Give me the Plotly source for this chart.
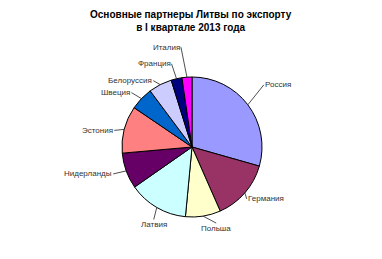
import math
import plotly.graph_objects as go

countries = ["Россия", "Германия", "Польша", "Латвия", "Нидерланды", "Эстония",
             "Швеция", "Белоруссия", "Франция", "Италия"]
shares = [29.4, 14.0, 8.1, 13.8, 8.3, 10.9, 5.3, 5.4, 2.5, 2.3]
colors = ["#9999FF", "#993366", "#FFFFCC", "#CCFFFF", "#660066", "#FF8080",
          "#0066CC", "#CCCCFF", "#000080", "#FF00FF"]
title_text = "<b>Основные партнеры Литвы по экспорту<br>в I квартале 2013 года</b>"

# label layout: pixel offset of each label from its slice edge, and anchors
label_offsets = [(16, -20), (2, 6), (13, 7), (-3, 12), (-13, 3), (-10, 1),
                 (-10, -6), (-7, -4), (-5, -15), (-6, -30)]
label_anchors = [("left", "middle"), ("left", "middle"), ("center", "top"),
                 ("center", "top"), ("right", "middle"), ("right", "middle"),
                 ("right", "middle"), ("right", "middle"), ("right", "middle"),
                 ("right", "middle")]

W, H = 382, 259
cx, cy, r = 192, 147, 70

fig = go.Figure(go.Pie(
    labels=countries, values=shares, sort=False, direction="clockwise", rotation=0,
    marker=dict(colors=colors, line=dict(color="black", width=1)),
    textinfo="none",
    domain=dict(x=[(cx - r) / W, (cx + r) / W], y=[1 - (cy + r) / H, 1 - (cy - r) / H]),
    showlegend=False, hoverinfo="label+percent",
))

total = sum(shares)
acc = 0.0
for name, v, (ax, ay), (xa, ya) in zip(countries, shares, label_offsets, label_anchors):
    mid = (acc + v / 2) / total * 2 * math.pi
    acc += v
    px, py = cx + r * math.sin(mid), cy - r * math.cos(mid)
    fig.add_annotation(
        x=px / W, y=1 - py / H, xref="paper", yref="paper",
        ax=ax, ay=ay, text=name, showarrow=True, arrowhead=0,
        arrowwidth=0.8, arrowcolor="#222", standoff=0, startstandoff=0,
        xanchor=xa, yanchor=ya, borderpad=0,
        font=dict(family="Arial, Liberation Sans", size=8, color="#333"),
    )

fig.add_annotation(
    text=title_text, xref="paper", yref="paper", x=0.5, y=1 - 7 / H,
    xanchor="center", yanchor="top", showarrow=False, align="center",
    font=dict(family="Arial, Liberation Sans", size=10, color="black"),
)
fig.update_layout(
    width=W, height=H, margin=dict(l=0, r=0, t=0, b=0),
    paper_bgcolor="white", plot_bgcolor="white",
)
fig.write_html("out.html")
